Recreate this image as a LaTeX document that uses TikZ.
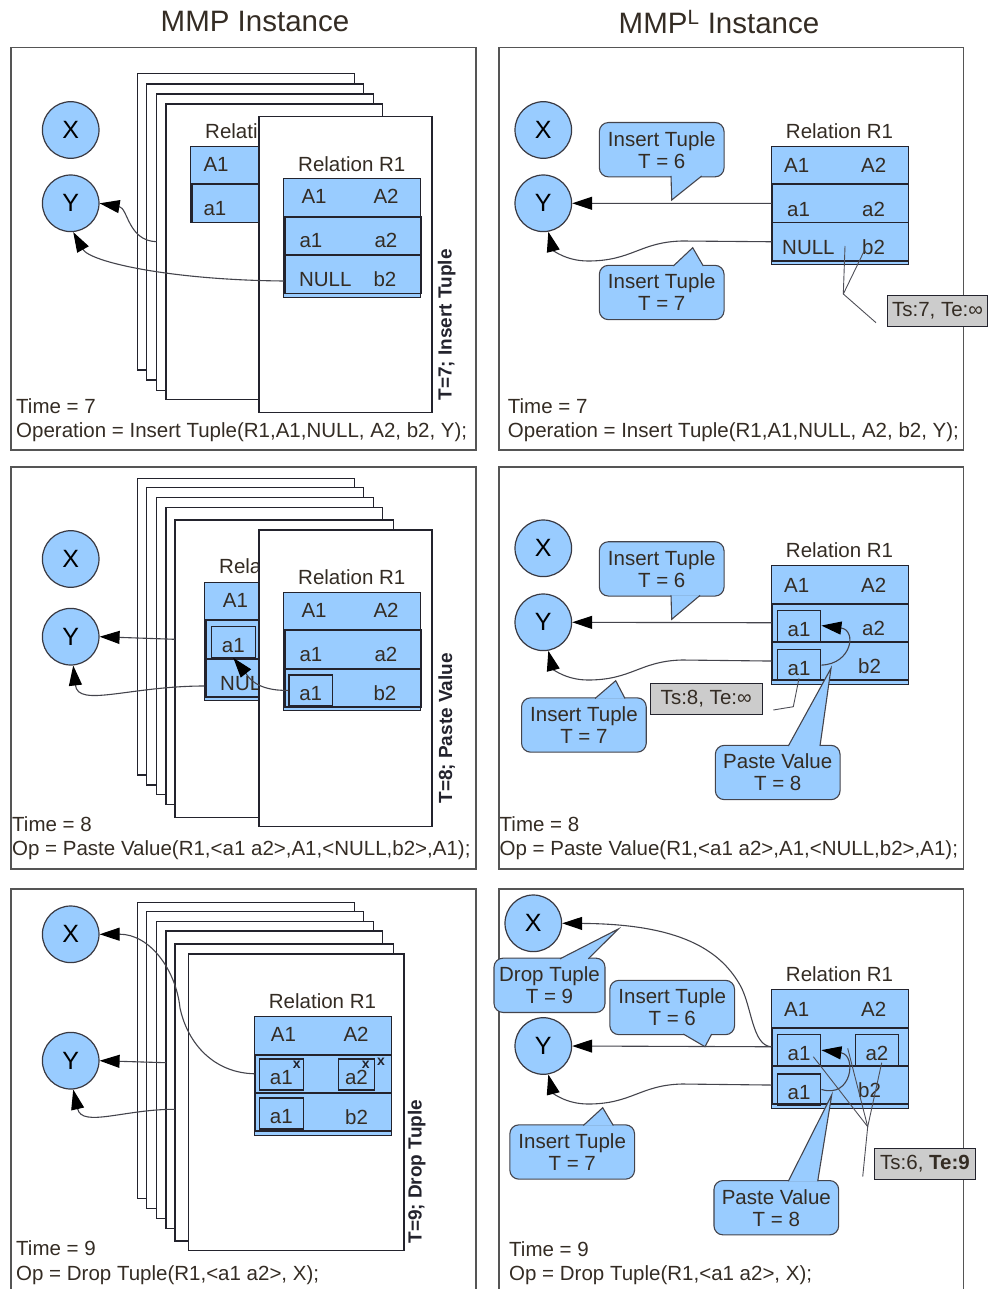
\documentclass[tikz,border=0pt]{standalone}
\usepackage{fontspec}
\setmainfont{Liberation Sans}
\usepackage{tikz}
\usetikzlibrary{arrows.meta, positioning, calc}
\definecolor{tupleblue}{RGB}{153,204,255}
\definecolor{inkgray}{RGB}{52,44,36}
\definecolor{framegray}{RGB}{85,85,85}
\definecolor{rowline}{RGB}{35,35,45}
\definecolor{notegray}{RGB}{204,204,204}
\newcommand{\txt}{\fontsize{20.5}{22}\selectfont}
\newcommand{\ttl}{\fontsize{29.5}{33}\selectfont}

\begin{document}
\begin{tikzpicture}[
  x=1pt, y=-1pt,
  every node/.style={font=\txt, text=inkgray},
  coltitle/.style={anchor=base, font=\ttl},
  panel/.style={draw=framegray, line width=1.1pt},
  sheet/.style={draw=rowline, fill=white, line width=1.1pt},
  var/.style={circle, fill=tupleblue, draw=rowline!90, line width=1.2pt,
              minimum size=56.6pt, inner sep=0pt,
              font=\fontsize{25}{25}\selectfont, text=black},
  reltab/.style={rectangle, fill=tupleblue, draw=rowline, line width=1pt,
                 anchor=north west, minimum width=137pt, minimum height=118.6pt,
                 inner sep=0pt},
  relhead/.style={rectangle, draw=rowline, line width=0.6pt, anchor=north west,
                  minimum width=137pt, minimum height=37.7pt, inner sep=0pt},
  relrow/.style={rectangle, draw=rowline, line width=1.8pt, anchor=north west,
                 minimum width=136pt, minimum height=38.3pt, inner sep=0pt},
  reltitle/.style={anchor=base},
  cell/.style={anchor=base west, inner sep=0pt},
  cellbox/.style={rectangle, draw=rowline, line width=1.2pt, anchor=north west,
                  minimum width=43.5pt, minimum height=31pt, inner sep=0pt,
                  text height=21pt, text depth=0pt},
  xmark/.style={inner sep=0pt, font=\bfseries\fontsize{14}{14}\selectfont, text=rowline},
  bubble/.style={rectangle, rounded corners=9pt, fill=tupleblue, draw=rowline!85,
                 line width=1.1pt, align=center, inner sep=0pt,
                 minimum width=124.7pt, minimum height=54.3pt},
  tail/.style={fill=tupleblue, draw=rowline!85, line width=1.1pt},
  note/.style={rectangle, fill=notegray, draw=rowline, line width=1pt,
               minimum height=31pt, inner sep=0pt},
  arr/.style={-{Triangle[length=20pt,width=13pt,color=black]}, draw=rowline!85, line width=1.1pt},
  lead/.style={draw=rowline!80, line width=0.9pt},
  vlabel/.style={rotate=90, text=rowline, font=\bfseries\fontsize{19}{22}\selectfont},
  info/.style={anchor=base west, inner sep=0pt}
]
\useasboundingbox (0,0) rectangle (991,1289);

\node[coltitle] (hl) at (255,31.7) {MMP Instance};
\node[coltitle] (hr) at (719,33.3) {MMP\textsuperscript{L} Instance};

% ---- T=7, MMP
\draw[panel] (11,47.7) rectangle (476,450);
\draw[sheet] (137.3,73.3) rectangle (354.3,370);
\draw[sheet] (146.7,84) rectangle (363.3,380);
\draw[sheet] (156.7,94) rectangle (373.3,390.7);
\draw[sheet] (166,104) rectangle (382.7,399.3);
\begin{scope}[shift={(190.3,145.7)}]
  \node[reltab, minimum height=76pt] (t1o) at (0,0) {};
  \node[reltitle] (t1on) at (68.5,-7.4) {Relation R1};
  \node[relhead] (t1oh) at (0,0) {};
  \node[relrow] (t1oa) at (0.5,37.7) {};
  \node[cell] (t1oc1) at (13,26) {A1};
  \node[cell] (t1oc3) at (13,70.3) {a1};
\end{scope}
\draw[sheet] (259,116.7) rectangle (432,412.3);
\begin{scope}[shift={(283.3,178.3)}]
  \node[reltab] (t1) at (0,0) {};
  \node[reltitle] (t1n) at (68.5,-7) {Relation R1};
  \node[relhead] (t1h) at (0,0) {};
  \node[relrow] (t1a) at (0.5,37.7) {};
  \node[relrow] (t1b) at (0.5,76) {};
  \node[cell] (t1c1) at (18,25.5) {A1};
  \node[cell] (t1c2) at (90,25.5) {A2};
  \node[cell] (t1c3) at (16,69) {a1};
  \node[cell] (t1c4) at (91,69) {a2};
  \node[cell] (t1c5) at (15.5,108.5) {NULL};
  \node[cell] (t1c6) at (90,108.5) {b2};
\end{scope}
\node[var] (x1) at (70.7,130) {X};
\node[var] (y1) at (70.7,203.3) {Y};
\coordinate (s1a) at (156.7,241.7);
\coordinate (s1b) at (284,281);
\draw[arr] (s1a) .. controls (128,241) and (128,208) .. (y1.east);
\draw[arr] (s1b) .. controls (170,280) and (90,262) .. (y1.-85);
\node[vlabel] (v1) at (446.7,325) {T=7; Insert Tuple};
\node[info] (tm1) at (16,413.3) {Time = 7};
\node[info] (op1) at (16,437.3) {Operation = Insert Tuple(R1,A1,NULL, A2, b2, Y);};

% ---- T=7, MMP^L
\draw[panel] (499,47.7) rectangle (963.5,450);
\node[var] (x2) at (543.3,130) {X};
\node[var] (y2) at (543.3,203.3) {Y};
\begin{scope}[shift={(771,145.7)}]
  \node[reltab] (t2) at (0,0) {};
  \node[reltitle] (t2n) at (68.5,-7.4) {Relation R1};
  \node[relhead] (t2h) at (0,0) {};
  \node[relrow] (t2a) at (0.5,37.7) {};
  \node[relrow] (t2b) at (0.5,76) {};
  \node[cell] (t2c1) at (13,27) {A1};
  \node[cell] (t2c2) at (90,27) {A2};
  \node[cell] (t2c3) at (16,70.5) {a1};
  \node[cell] (t2c4) at (91,70.5) {a2};
  \node[cell] (t2c5) at (11,109) {NULL};
  \node[cell] (t2c6) at (91,109) {b2};
\end{scope}
\draw[arr] (t2a.west) -- (y2.east);
\draw[arr] (t2b.west) -- (682,241) .. controls (640,242) and (632,261) .. (588,261)
  .. controls (566,261) and (553,250) .. (y2.-80);
\node[bubble] (b2i6) at (661.7,149.7) {Insert Tuple\\T = 6};
\draw[tail] (671,176) -- (671.7,200) -- (701.7,176);
\node[bubble] (b2i7) at (661.7,292.5) {Insert Tuple\\T = 7};
\draw[tail] (673.3,266) -- (692.7,247.7) -- (703.3,266);
\node[note, minimum width=100.4pt] (n2) at (937.5,311.2) {Ts:7, Te:∞};
\coordinate (q2a) at (845,246);
\coordinate (q2b) at (864.3,250.7);
\coordinate (q2m) at (843.3,294);
\coordinate (q2e) at (876,322.7);
\draw[lead] (q2a) -- (q2m) -- (q2e);
\draw[lead] (q2b) -- (q2m);
\node[info] (tm2) at (507.7,413.3) {Time = 7};
\node[info] (op2) at (507.7,437.3) {Operation = Insert Tuple(R1,A1,NULL, A2, b2, Y);};

% ---- T=8, MMP
\draw[panel] (11,467) rectangle (476,869);
\draw[sheet] (137.3,478.3) rectangle (354.3,775);
\draw[sheet] (146.7,487.7) rectangle (363.3,785);
\draw[sheet] (156.7,497.7) rectangle (373.3,794.3);
\draw[sheet] (166,507.7) rectangle (382.7,804.3);
\draw[sheet] (175,520) rectangle (393.3,817.3);
\begin{scope}[shift={(204.3,581.7)}]
  \node[reltab] (t3o) at (0,0) {};
  \node[reltitle] (t3on) at (68.5,-8.4) {Relation R1};
  \node[relhead] (t3oh) at (0,0) {};
  \node[relrow] (t3oa) at (0.5,37.7) {};
  \node[relrow] (t3ob) at (0.5,76) {};
  \node[cell] (t3oc1) at (18.4,26) {A1};
  \node[cellbox] (t3ba) at (6.7,44) {a1};
  \node[cell] (t3oc5) at (15.7,108.3) {NULL};
\end{scope}
\draw[sheet] (259,530) rectangle (432,826.7);
\begin{scope}[shift={(283.3,591.7)}]
  \node[reltab] (t3) at (0,0) {};
  \node[reltitle] (t3n) at (68.5,-7.4) {Relation R1};
  \node[relhead] (t3h) at (0,0) {};
  \node[relrow] (t3a) at (0.5,37.7) {};
  \node[relrow] (t3b) at (0.5,76) {};
  \node[cell] (t3c1) at (18,25.5) {A1};
  \node[cell] (t3c2) at (90,25.5) {A2};
  \node[cell] (t3c3) at (16,69.5) {a1};
  \node[cell] (t3c4) at (91,69.5) {a2};
  \node[cellbox] (t3fa) at (5,82.6) {a1};
  \node[cell] (t3c6) at (90,108.3) {b2};
\end{scope}
\node[var] (x3) at (70.7,559) {X};
\node[var] (y3) at (70.7,636.7) {Y};
\coordinate (s3a) at (175,639.3);
\coordinate (s3b) at (204.3,686);
\draw[arr] (s3a) -- (y3.east);
\draw[arr] (s3b) .. controls (130,686) and (78,708) .. (y3.-85);
\draw[arr] (t3fa.west) .. controls (255,691) and (248,676) .. (t3ba.south);
\node[vlabel] (v3) at (446.7,728.3) {T=8; Paste Value};
\node[info] (tm3) at (12,831.7) {Time = 8};
\node[info] (op3) at (12,855.7) {Op = Paste Value(R1,<a1 a2>,A1,<NULL,b2>,A1);};

% ---- T=8, MMP^L
\draw[panel] (499,467) rectangle (963.5,869);
\node[var] (x4) at (543.3,548.3) {X};
\node[var] (y4) at (543.3,622.3) {Y};
\begin{scope}[shift={(771,565)}]
  \node[reltab] (t4) at (0,0) {};
  \node[reltitle] (t4n) at (68.5,-7.4) {Relation R1};
  \node[relhead] (t4h) at (0,0) {};
  \node[relrow] (t4a) at (0.5,37.7) {};
  \node[relrow] (t4b) at (0.5,76) {};
  \node[cell] (t4c1) at (13,27) {A1};
  \node[cell] (t4c2) at (90,27) {A2};
  \node[cellbox] (t4a1) at (5.7,44.5) {a1};
  \node[cell] (t4c4) at (91,70.5) {a2};
  \node[cellbox] (t4b1) at (5.7,84) {a1};
  \node[cell] (t4c6) at (87,108.5) {b2};
\end{scope}
\draw[arr] (t4a.west) -- (y4.east);
\draw[arr] (t4b.west) -- (682,660) .. controls (640,661) and (632,680) .. (588,680)
  .. controls (566,680) and (553,669) .. (y4.-80);
\draw[arr] (t4b1.east) .. controls (852,664) and (857,630) .. (t4a1.east);
\node[bubble] (b4i6) at (661.7,568.9) {Insert Tuple\\T = 6};
\draw[tail] (671,595.4) -- (671.7,619.3) -- (700,595.4);
\node[bubble] (b4i7) at (583.9,725) {Insert Tuple\\T = 7};
\draw[tail] (595,698.5) -- (615.7,680.7) -- (625,698.5);
\node[bubble] (b4p8) at (777.7,772.5) {Paste Value\\T = 8};
\draw[tail] (788.3,746) -- (831,668.3) -- (820,746);
\node[note, minimum width=112.3pt] (n4) at (706.2,698.8) {Ts:8, Te:∞};
\coordinate (q4a) at (773.3,710);
\coordinate (q4b) at (793.3,706.7);
\coordinate (q4c) at (799,678.3);
\draw[lead] (q4a) -- (q4b) -- (q4c);
\node[info] (tm4) at (499.5,831.7) {Time = 8};
\node[info] (op4) at (499.5,855.7) {Op = Paste Value(R1,<a1 a2>,A1,<NULL,b2>,A1);};

% ---- T=9, MMP
\draw[panel] (11,1295) -- (11,889) -- (476,889) -- (476,1295);
\draw[sheet] (137.3,902.3) rectangle (354.3,1198.3);
\draw[sheet] (146.7,911.7) rectangle (363.3,1208.3);
\draw[sheet] (156.7,921.7) rectangle (373.3,1218.3);
\draw[sheet] (166,931) rectangle (382.7,1228.3);
\draw[sheet] (175,944) rectangle (393.3,1241);
\draw[sheet] (188.3,954) rectangle (404,1250.7);
\begin{scope}[shift={(254,1016)}]
  \node[reltab] (t5) at (0,0) {};
  \node[reltitle] (t5n) at (68.5,-7.7) {Relation R1};
  \node[relhead] (t5h) at (0,0) {};
  \node[relrow] (t5a) at (0.5,37.7) {};
  \node[relrow] (t5b) at (0.5,76) {};
  \node[cell] (t5c1) at (16.7,25.7) {A1};
  \node[cell] (t5c2) at (89.3,25.7) {A2};
  \node[cellbox] (t5a1) at (5,42.3) {a1};
  \node[cellbox, minimum width=36.3pt] (t5a2) at (83.7,42.3) {a2};
  \node[cellbox] (t5b1) at (5,81.3) {a1};
  \node[cell] (t5c6) at (91,108.3) {b2};
  \node[xmark] (t5x1) at (42.7,49) {x};
  \node[xmark] (t5x2) at (111.7,49) {x};
  \node[xmark] (t5x3) at (127,45.6) {x};
\end{scope}
\node[var] (x5) at (70.7,934.3) {X};
\node[var] (y5) at (70.7,1060.7) {Y};
\coordinate (s5a) at (166,1062.7);
\coordinate (s5b) at (175,1109.3);
\draw[arr] (t5a.west) .. controls (215,1073) and (188,1045) .. (180,1008)
  .. controls (176,970) and (150,934) .. (x5.east);
\draw[arr] (s5a) -- (y5.east);
\draw[arr] (s5b) .. controls (125,1109) and (82,1128) .. (y5.-85);
\node[vlabel] (v5) at (416.7,1171.7) {T=9; Drop Tuple};
\node[info] (tm5) at (16,1255.7) {Time = 9};
\node[info] (op5) at (16,1280) {Op = Drop Tuple(R1,<a1 a2>, X);};

% ---- T=9, MMP^L
\draw[panel] (499,1295) -- (499,889) -- (963.5,889) -- (963.5,1295);
\node[var] (x6) at (533.3,923.3) {X};
\node[var] (y6) at (543.3,1046) {Y};
\begin{scope}[shift={(771,989)}]
  \node[reltab] (t6) at (0,0) {};
  \node[reltitle] (t6n) at (68.5,-7.4) {Relation R1};
  \node[relhead] (t6h) at (0,0) {};
  \node[relrow] (t6a) at (0.5,37.7) {};
  \node[relrow] (t6b) at (0.5,76) {};
  \node[cell] (t6c1) at (13,27) {A1};
  \node[cell] (t6c2) at (90,27) {A2};
  \node[cellbox] (t6a1) at (5.7,45) {a1};
  \node[cellbox, minimum width=42.7pt] (t6a2) at (84,45) {a2};
  \node[cellbox] (t6b1) at (5.7,84.3) {a1};
  \node[cell] (t6c6) at (87,108.5) {b2};
\end{scope}
\draw[arr] (t6a.west) -- (y6.east);
\draw[arr] (t6a.west) .. controls (752,1046) and (752,1006) .. (740,985)
  .. controls (720,950) and (680,924) .. (x6.east);
\draw[arr] (t6b.west) -- (682,1084) .. controls (640,1085) and (632,1104) .. (588,1104)
  .. controls (566,1104) and (553,1093) .. (y6.-80);
\draw[arr] (t6b1.east) .. controls (852,1099) and (857,1055) .. (t6a1.east);
\node[bubble, minimum width=111pt] (b6d9) at (549.5,985.3) {Drop Tuple\\T = 9};
\draw[tail] (560,958.8) -- (618.3,929) -- (588.3,958.8);
\node[bubble] (b6i6) at (672.2,1007.5) {Insert Tuple\\T = 6};
\draw[tail] (683.3,1034) -- (705,1046.7) -- (711.7,1034);
\node[bubble] (b6i7) at (572.2,1152) {Insert Tuple\\T = 7};
\draw[tail] (583.3,1125.5) -- (602.7,1107.7) -- (613.3,1125.5);
\node[bubble] (b6p8) at (776.3,1207.7) {Paste Value\\T = 8};
\draw[tail] (788.3,1181.2) -- (831.7,1095) -- (817.7,1181.2);
\node[note, minimum width=101.4pt] (n6) at (925,1163.8) {Ts:6, \textbf{Te:9}};
\coordinate (q6a) at (813.3,1056.7);
\coordinate (q6b) at (847.7,1048.3);
\coordinate (q6c) at (881.7,1062.7);
\coordinate (q6m) at (867.7,1126.7);
\coordinate (q6e) at (862.7,1176.7);
\draw[lead] (q6a) -- (q6m) -- (q6e);
\draw[lead] (q6b) -- (q6m);
\draw[lead] (q6c) -- (q6m);
\node[info] (tm6) at (509,1256.7) {Time = 9};
\node[info] (op6) at (509,1280) {Op = Drop Tuple(R1,<a1 a2>, X);};
\end{tikzpicture}
\end{document}
